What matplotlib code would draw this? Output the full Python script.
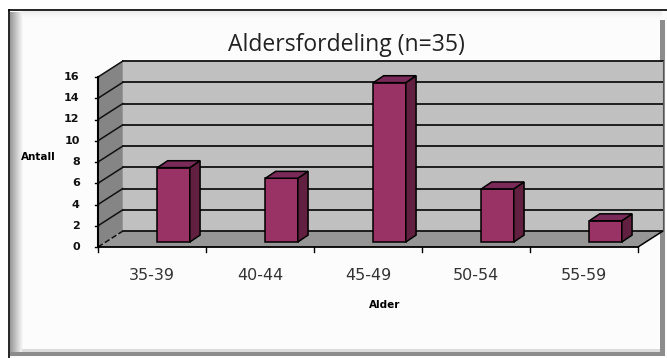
import matplotlib.pyplot as plt
from matplotlib.patches import Polygon, Rectangle
import numpy as np

plt.switch_backend('Agg')

# Data
categories = ['35-39', '40-44', '45-49', '50-54', '55-59']
values = [7, 6, 15, 5, 2]
y_ticks = [0, 2, 4, 6, 8, 10, 12, 14, 16]

# 3D-look constants (data units)
DX, DY = 0.23, 1.5          # wall depth
BX, BY = 0.2, 0.47          # bar front offset
BW = 0.3                    # bar width
SX, SY = 0.095, 0.65        # bar depth

W, H = 667, 358
fig = plt.figure(figsize=(W / 100, H / 100), dpi=100)
fig.patch.set_facecolor('white')

# frame decoration in pixel coords
bg = fig.add_axes([0, 0, 1, 1])
bg.set_xlim(0, W)
bg.set_ylim(H, 0)
bg.axis('off')
bg.add_patch(Rectangle((9, 10), W - 9, H - 10, facecolor='#fcfcfc', edgecolor='none'))
for i, g in enumerate(np.linspace(0.6, 0.97, 13)):
    bg.add_patch(Rectangle((10 + i, 12), 1, 343, facecolor=str(g), edgecolor='none'))
for i, g in enumerate(np.linspace(0.93, 0.99, 8)):
    bg.add_patch(Rectangle((22, 11 + i), 640, 1, facecolor=str(g), edgecolor='none'))
bg.add_patch(Rectangle((22, 349), 640, 3, facecolor='#dcdcdc', edgecolor='none'))
bg.add_patch(Rectangle((10, 352), 655, 4, facecolor='#8c8c8c', edgecolor='none'))
bg.add_patch(Rectangle((660, 20), 5, 336, facecolor='#8c8c8c', edgecolor='none'))
bg.plot([9, W], [10, 10], color='black', lw=1.2)
bg.plot([9, 9], [10, H], color='black', lw=1.2)

ax = fig.add_axes([98 / W, 111 / H, 540 / W, 170 / H])
ax.set_xlim(-0.5, 4.5)
ax.set_ylim(0, 16)
ax.axis('off')

x0, x1 = -0.5, len(categories) - 0.5
top = y_ticks[-1]

# back wall
ax.add_patch(Polygon([(x0 + DX, DY), (x1 + DX, DY), (x1 + DX, top + DY), (x0 + DX, top + DY)],
                     closed=True, facecolor='#c0c0c0', edgecolor='none', clip_on=False))
# side wall
ax.add_patch(Polygon([(x0, 0), (x0 + DX, DY), (x0 + DX, top + DY), (x0, top)],
                     closed=True, facecolor='#858585', edgecolor='none', clip_on=False))
# floor
ax.add_patch(Polygon([(x0, 0), (x1, 0), (x1 + DX, DY), (x0 + DX, DY)],
                     closed=True, facecolor='#969696', edgecolor='none', clip_on=False))

# gridlines
for v in y_ticks:
    ax.plot([x0 + DX, x1 + DX], [v + DY, v + DY], color='#111111', lw=1.3, clip_on=False)
    ls = '--' if v == 0 else '-'
    ax.plot([x0, x0 + DX], [v, v + DY], color='#111111', lw=1.1, ls=ls, clip_on=False)
    ax.plot([x0 - 0.03, x0], [v, v], color='black', lw=1, clip_on=False)
    ax.text(x0 - 0.17, v, str(v), ha='right', va='center', fontsize=8, fontweight='bold',
            family='DejaVu Sans', color='#111111')

ax.plot([x0, x0], [0, top], color='black', lw=1.5, clip_on=False)
ax.plot([x0, x1], [0, 0], color='black', lw=1.3, clip_on=False)
ax.plot([x1, x1 + DX], [0, DY], color='black', lw=1.1, clip_on=False)
ax.plot([x1 + DX, x1 + DX], [DY, top + DY], color='#555555', lw=0.8, clip_on=False)
for b in np.arange(x0, x1 + 0.01, 1):
    ax.plot([b, b], [0, -0.45], color='black', lw=1, clip_on=False)

# bars
pos = np.arange(len(categories))
ax.bar(pos + BX, values, width=BW, bottom=BY, color='#993366', edgecolor='black',
       linewidth=1.1, clip_on=False, zorder=3)
for p, v in zip(pos, values):
    l, r = p + BX - BW / 2, p + BX + BW / 2
    t = BY + v
    ax.add_patch(Polygon([(r, BY), (r + SX, BY + SY), (r + SX, t + SY), (r, t)], closed=True,
                         facecolor='#612040', edgecolor='black', lw=1.1, zorder=3, clip_on=False))
    ax.add_patch(Polygon([(l, t), (r, t), (r + SX, t + SY), (l + SX, t + SY)], closed=True,
                         facecolor='#7a2a58', edgecolor='black', lw=1.1, zorder=3, clip_on=False))

for p, c in zip(pos, categories):
    ax.text(p, -2.65, c, ha='center', va='center', fontsize=11.5,
            family='DejaVu Sans', color='#333333')

ax.text(2.15, -5.5, 'Alder', ha='center', va='center', fontsize=7.5, fontweight='bold',
        family='DejaVu Sans', color='black')
fig.text(38 / W, 1 - 157 / H, 'Antall', ha='center', va='center', fontsize=7.5,
         fontweight='bold', family='DejaVu Sans', color='black')
fig.text(346 / W, 1 - 45 / H, 'Aldersfordeling (n=35)', ha='center', va='center',
         fontsize=16.5, family='Open Sans', color='#222222')

fig.savefig('out.png', dpi=100)
